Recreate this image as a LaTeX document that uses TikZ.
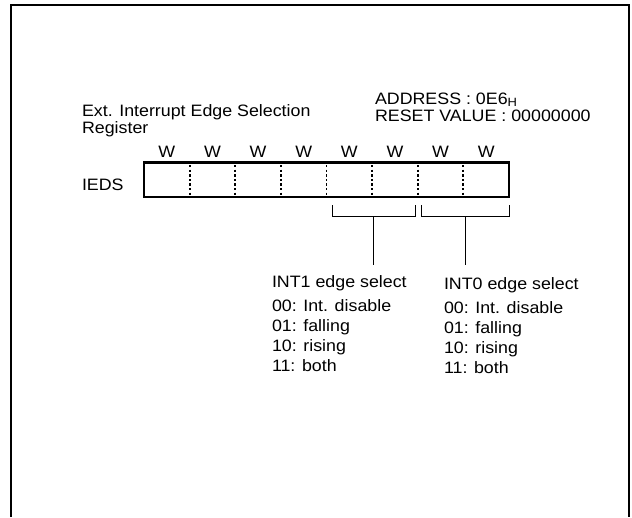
\documentclass[tikz,border=0pt]{standalone}
\usepackage{fontspec}
\setmainfont{Liberation Sans}[FakeStretch=1.08]
\begin{document}
\begin{tikzpicture}[x=1pt,y=-1pt,
  every node/.style={inner sep=0pt, outer sep=0pt},
  txt/.style={font=\fontsize{16.5}{20}\selectfont, anchor=base west},
  wlab/.style={font=\fontsize{16.5}{20}\selectfont, anchor=base},
  cell/.style={minimum width=45.625pt, minimum height=34.5pt, anchor=north west},
  divider/.style={line width=1.8pt, dash pattern=on 2.4pt off 2.2pt},
  regbox/.style={line width=2.8pt},
  frame/.style={line width=2pt},
  brace/.style={line width=1pt}]
\useasboundingbox (0,0) rectangle (632,517);
% frame
\draw[frame] (11,517) -- (11,5) -- (629,5) -- (629,517);
% titles
\node[txt] (title1) at (82,116.5) {Ext. Interrupt Edge Selection};
\node[txt] (title2) at (82,133) {Register};
\node[txt] (addr) at (375,104.5) {ADDRESS : 0E6\raisebox{-2pt}{\fontsize{12}{12}\selectfont H}};
\node[txt] (reset) at (375,121) {RESET VALUE : 00000000};
\node[txt] (ieds) at (82,190) {IEDS};
% register cells
\foreach \i in {0,...,7} {
  \node[cell] (c\i) at ({144+45.625*\i},162.5) {};
  \node[wlab] (w\i) at ([yshift=5.5pt]c\i.north) {W};
}
\draw[regbox] (c0.north west) rectangle (c7.south east);
\foreach \i in {1,...,7} {
  \draw[divider] ([yshift=-2.5pt]c\i.north west) -- ([yshift=2.5pt]c\i.south west);
}
% brackets
\coordinate (l1) at (332,205); \coordinate (l2) at (415,205);
\coordinate (r1) at (421,205); \coordinate (r2) at (509,205);
\draw[brace] (l1) -- ++(0,11) -| (l2);
\draw[brace] (r1) -- ++(0,11) -| (r2);
\coordinate (ls) at (373.5,216); \coordinate (rs) at (465,216);
\coordinate (le) at (373.5,265); \coordinate (re) at (465,265);
\draw[brace] (ls) -- (le);
\draw[brace] (rs) -- (re);
% descriptions
\node[txt] (int1) at (272,287) {INT1 edge select};
\node[txt] (int1a) at (272,311.7) {00: Int. disable};
\node[txt] (int1b) at (272,331.7) {01: falling};
\node[txt] (int1c) at (272,351.7) {10: rising};
\node[txt] (int1d) at (272,371.7) {11: both};
\node[txt] (int0) at (444,289) {INT0 edge select};
\node[txt] (int0a) at (444,313.5) {00: Int. disable};
\node[txt] (int0b) at (444,333.5) {01: falling};
\node[txt] (int0c) at (444,353.5) {10: rising};
\node[txt] (int0d) at (444,373.5) {11: both};
\end{tikzpicture}
\end{document}
